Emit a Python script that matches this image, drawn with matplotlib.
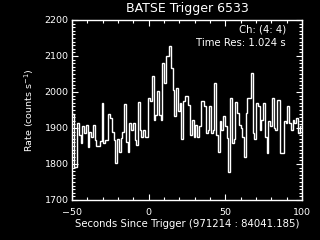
import numpy as np
import matplotlib
matplotlib.use("Agg")
import matplotlib.pyplot as plt
from matplotlib.ticker import MultipleLocator

title = "BATSE Trigger 6533"
xlabel = "Seconds Since Trigger (971214 : 84041.185)"
ylabel = "Rate (counts s$^{-1}$)"
channel_text = "Ch: (4: 4)"
res_text = "Time Res: 1.024 s"

t_start = -50.0
t_end = 99.5

rates = [
    # -50 .. ~-6 s
    1938, 1792, 1792, 1913, 1881, 1858, 1904, 1885, 1909, 1848,
    1890, 1876, 1909, 1867, 1850, 1850, 1865, 1969, 1858, 1867,
    1867, 1938, 1927, 1890, 1867, 1802, 1869, 1834, 1871, 1890,
    1966, 1862, 1834, 1913, 1895, 1913, 1867, 1853, 1972, 1893,
    1876, 1895, 1876,
    # ~-6 .. ~52 s
    1876, 1983, 1974, 2044, 1923, 1937, 2002, 1937, 1923, 2081,
    2025, 2099, 2099, 2127, 2067, 2006, 1932, 2011, 1946, 1969,
    1870, 1974, 1988, 1988, 1965, 1881, 1923, 1876, 1909, 1876,
    1904, 1974, 1974, 1960, 1886, 1895, 1960, 1886, 1895, 2025,
    1881, 1834, 1918, 1895, 1932, 1904, 1872,
    # ~52 .. 100 s
    1778, 1983, 1858, 1870, 1972, 1941, 1909, 1899, 1876, 1818,
    1941, 1983, 1983, 2053, 1885, 1869, 1969, 1960, 1895, 1923,
    1969, 1876, 1830, 1918, 1904, 1983, 1899, 1895, 1977, 1977,
    1830, 1830, 1918, 1913, 1960, 1913, 1893, 1921, 1913, 1927,
    1885, 1904,
]

xlim = (-50, 100)
ylim = (1700, 2200)
xticks = [-50, 0, 50, 100]
yticks = [1700, 1800, 1900, 2000, 2100, 2200]

plt.rcParams['font.family'] = ['DejaVu Sans']

fig = plt.figure(figsize=(3.2, 2.4), dpi=100, facecolor='black')
ax = fig.add_axes([0.225, 0.167, 0.719, 0.750], facecolor='black')

edges = np.linspace(t_start, t_end, len(rates) + 1)
ax.stairs(rates, edges, baseline=None, color='white', linewidth=1.0)

ax.set_xlim(*xlim)
ax.set_ylim(*ylim)
ax.set_xticks(xticks)
ax.set_yticks(yticks)
ax.xaxis.set_minor_locator(MultipleLocator(10))
ax.yaxis.set_minor_locator(MultipleLocator(10))

for s in ax.spines.values():
    s.set_color('white')
    s.set_linewidth(1.0)

ax.tick_params(which='both', direction='in', colors='white', top=True, right=True,
               labelsize=6.8, width=0.8)
ax.tick_params(which='major', length=4.5)
ax.tick_params(axis='x', which='major', pad=6)
ax.tick_params(axis='y', which='major', pad=2.5)
ax.tick_params(which='minor', length=2.2)

ax.set_title(title, color='white', fontsize=9, pad=6)
ax.set_xlabel(xlabel, color='white', fontsize=7.3, labelpad=1)
ax.set_ylabel(ylabel, color='white', fontsize=6.8, labelpad=6)

ax.text(0.93, 0.972, channel_text, transform=ax.transAxes, color='white',
        fontsize=7.3, ha='right', va='top')
ax.text(0.93, 0.902, res_text, transform=ax.transAxes, color='white',
        fontsize=7.3, ha='right', va='top')

fig.savefig("out.png", dpi=100, facecolor='black')
